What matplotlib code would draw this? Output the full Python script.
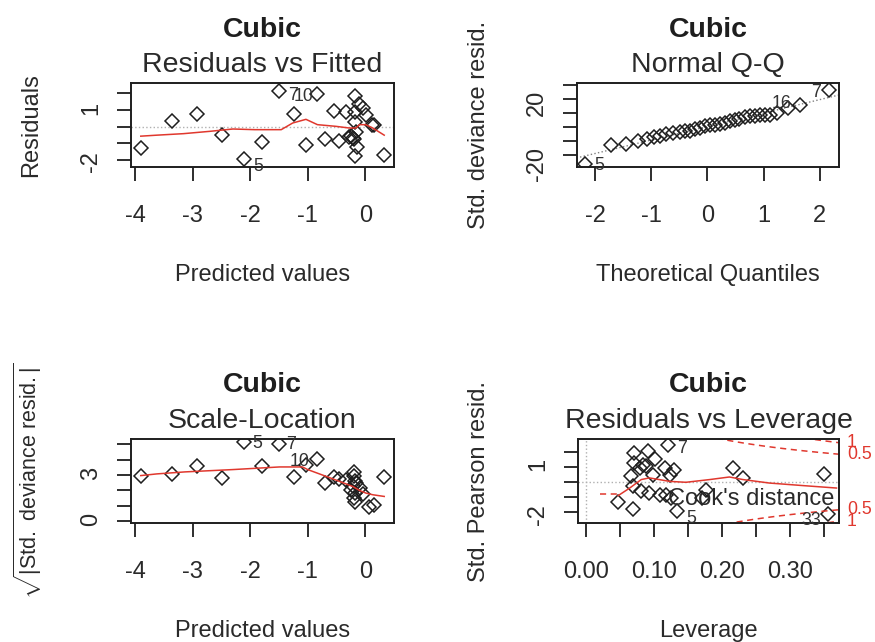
import matplotlib
matplotlib.use("Agg")
import numpy as np
import matplotlib.pyplot as plt
from matplotlib.transforms import blended_transform_factory

plt.rcParams['font.family'] = ['Liberation Sans', 'DejaVu Sans']
plt.rcParams['mathtext.fontset'] = 'custom'
plt.rcParams['mathtext.rm'] = 'Liberation Sans'
plt.rcParams['mathtext.it'] = 'Liberation Sans:italic'

# ---- data ----
# Residuals vs Fitted
fitted = [-3.90, -3.36, -2.92, -2.49, -2.11, -1.79, -1.50, -1.23, -1.03, -0.84,
          -0.70, -0.54, -0.45, -0.34, -0.29, -0.25, -0.22, -0.20, -0.18, -0.17,
          -0.17, -0.18, -0.15, -0.16, -0.10, -0.03, 0.01, 0.12, 0.16, 0.33]
resid = [-1.29, 0.36, 0.73, -0.53, -1.92, -0.95, 2.14, 0.73, -1.09, 1.94,
         -0.74, 0.95, -0.84, 0.89, -0.62, -0.55, -0.66, -0.72, 1.84, 0.89,
         0.25, -1.75, -1.25, -0.30, 1.33, 1.09, 0.69, 0.12, 0.08, -1.73]
rf_smooth_x = [-3.90, -3.62, -3.16, -2.70, -2.30, -1.92, -1.46, -1.26, -1.03,
               -0.83, -0.51, -0.28, -0.16, -0.10, 0.01, 0.13, 0.33]
rf_smooth_y = [-0.57, -0.51, -0.42, -0.28, -0.14, -0.18, -0.18, 0.22, 0.44,
               0.12, 0.02, -0.08, -0.08, 0.12, 0.12, -0.08, -0.51]
rf_ids = ["5", "7", "10"]
rf_id_x = [-1.86, -1.26, -1.08]
rf_id_y = [-2.37, 1.86, 1.82]

# Normal Q-Q
qq_x = [-2.18, -1.71, -1.45, -1.23, -1.07, -0.95, -0.85, -0.73, -0.61, -0.49,
        -0.40, -0.31, -0.23, -0.14, -0.05, 0.04, 0.13, 0.22, 0.31, 0.40,
        0.49, 0.57, 0.66, 0.75, 0.84, 0.93, 1.02, 1.11, 1.23, 1.43, 1.65, 2.16]
qq_y = [-26.2, -12.5, -12.0, -9.7, -8.3, -7.3, -6.6, -5.0, -4.2, -3.3,
        -3.0, -2.6, -1.2, -0.7, 0.5, 1.2, 1.7, 1.9, 2.8, 4.0,
        5.2, 5.9, 7.0, 7.5, 7.8, 8.3, 8.5, 8.7, 9.9, 13.4, 15.8, 26.4]
qq_line_x = [-2.33, 2.33]
qq_line_y = [-22.0, 22.5]
qq_ids = ["5", "16", "7"]
qq_id_x = [-1.93, 1.32, 1.94]
qq_id_y = [-27.0, 16.3, 24.2]

# Scale-Location
sl_x = [-3.90, -3.36, -2.92, -2.49, -2.11, -1.79, -1.50, -1.23, -1.03, -0.83,
        -0.70, -0.54, -0.45, -0.34, -0.20, -0.19, -0.17, -0.22, -0.16, -0.25,
        -0.18, -0.20, -0.18, -0.09, -0.03, 0.07, 0.16, 0.33]
sl_y = [2.96, 3.09, 3.57, 2.80, 5.13, 3.57, 5.02, 2.85, 3.67, 4.04,
        2.48, 2.85, 2.75, 2.70, 3.17, 2.91, 2.59, 2.26, 2.48, 2.04,
        1.83, 1.50, 1.28, 2.15, 1.78, 0.91, 1.07, 2.85]
sl_smooth_x = [-3.90, -3.62, -3.13, -2.30, -1.49, -1.09, -1.00, -0.68, -0.45,
               -0.22, -0.10, 0.01, 0.13, 0.33]
sl_smooth_y = [2.96, 3.07, 3.20, 3.35, 3.52, 3.52, 3.35, 2.91, 2.59,
               2.26, 2.00, 1.83, 1.72, 1.61]
sl_ids = ["5", "7", "10"]
sl_id_x = [-1.88, -1.29, -1.14]
sl_id_y = [5.04, 4.98, 3.89]

# Residuals vs Leverage
lev = [0.047, 0.069, 0.071, 0.071, 0.066, 0.069, 0.079, 0.084, 0.088, 0.091,
       0.101, 0.098, 0.093, 0.081, 0.108, 0.116, 0.120, 0.123, 0.130, 0.118,
       0.125, 0.133, 0.170, 0.177, 0.216, 0.231, 0.350, 0.356]
std_pearson = [-1.29, -1.80, 1.93, 1.27, 0.38, -0.29, 0.90, 1.10, 1.04, 2.04,
               1.49, 0.49, -0.73, -0.62, -0.84, 0.93, 2.42, 0.49, 0.82, -0.84,
               -1.05, -1.91, -1.05, -0.56, 0.93, 0.27, 0.56, -2.13]
lv_smooth_x = [0.047, 0.064, 0.081, 0.093, 0.123, 0.147, 0.182, 0.211, 0.231,
               0.270, 0.320, 0.369]
lv_smooth_y = [-0.90, -0.40, 0.16, 0.27, 0.04, -0.02, 0.16, 0.33, 0.16,
               -0.07, -0.24, -0.40]
lv_ids = ["7", "5", "33"]
lv_id_x = [0.141, 0.155, 0.332]
lv_id_y = [2.20, -2.40, -2.55]
n_par = 4
cook_levels = [0.5, 1.0]

# ---- figure ----
W, H = 875, 642
fig = plt.figure(figsize=(W / 100, H / 100), dpi=100)

DARK = '#1e1e1e'
RED = '#e0382e'
MAIN = 20.5
LAB = 17
ID = 12.75


def panel(l, t, r, b):
    ax = fig.add_axes([l / W, 1 - b / H, (r - l) / W, (b - t) / H])
    for s in ax.spines.values():
        s.set_linewidth(1.4)
        s.set_color(DARK)
    ax.tick_params(length=10, width=1.3, color=DARK, labelsize=LAB,
                   labelcolor='#2a2a2a')
    ax.tick_params(axis='x', pad=17)
    ax.tick_params(axis='y', pad=11, labelrotation=90)
    return ax


def titles(l, r, y1, y2, sub):
    cx = (l + r) / 2 / W
    fig.text(cx, 1 - y1 / H, "Cubic", ha='center', va='baseline',
             fontsize=MAIN, fontweight='bold', color=DARK)
    fig.text(cx, 1 - y2 / H, sub, ha='center', va='baseline',
             fontsize=MAIN, color='#2a2a2a')


def xlab(l, r, y, s):
    fig.text((l + r) / 2 / W, 1 - y / H, s, ha='center', va='baseline',
             fontsize=LAB, color='#2a2a2a')


def ylab(x, t, b, s, size=LAB):
    fig.text(x / W, 1 - (t + b) / 2 / H, s, ha='center', va='baseline',
             rotation=90, rotation_mode='anchor', fontsize=size, color='#2a2a2a')


def points(ax, x, y):
    ax.plot(x, y, linestyle='none', marker='D', markersize=6.8,
            markerfacecolor='none', markeredgecolor=DARK, markeredgewidth=1.1)


def ids(ax, labs, x, y):
    for s, a, b in zip(labs, x, y):
        ax.text(a, b, s, fontsize=ID, color='#333333', ha='center', va='center',
                clip_on=False)


# panel 1: Residuals vs Fitted
ax1 = panel(131, 83, 394, 167)
ax1.axhline(0, color='#b0b0b0', lw=1.0, ls=':')
points(ax1, fitted, resid)
ax1.plot(rf_smooth_x, rf_smooth_y, color=RED, lw=1.1)
ids(ax1, rf_ids, rf_id_x, rf_id_y)
ax1.set_xlim(-4.07, 0.50)
ax1.set_ylim(-2.42, 2.62)
ax1.set_xticks([-4, -3, -2, -1, 0], labels=["-4", "-3", "-2", "-1", "0"])
ax1.set_yticks([-2, -1, 0, 1, 2], labels=["-2", "", "", "1", ""])
titles(131, 394, 37, 72, "Residuals vs Fitted")
xlab(131, 394, 281, "Predicted values")
ylab(37, 83, 167, "Residuals")

# panel 2: Normal Q-Q
ax2 = panel(577, 83, 839, 167)
ax2.plot(qq_line_x, qq_line_y, color='#808080', lw=1.0, ls=':')
points(ax2, qq_x, qq_y)
ids(ax2, qq_ids, qq_id_x, qq_id_y)
ax2.set_xlim(-2.32, 2.34)
ax2.set_ylim(-28.4, 31.1)
ax2.set_xticks([-2, -1, 0, 1, 2], labels=["-2", "-1", "0", "1", "2"])
ax2.set_yticks([-20, -10, 0, 10, 20, 30], labels=["-20", "", "", "", "20", ""])
titles(577, 839, 37, 72, "Normal Q-Q")
xlab(577, 839, 281, "Theoretical Quantiles")
ylab(485, 83, 167, "Std. deviance resid.")

# panel 3: Scale-Location
ax3 = panel(131, 439, 394, 523)
points(ax3, sl_x, sl_y)
ax3.plot(sl_smooth_x, sl_smooth_y, color=RED, lw=1.1)
ids(ax3, sl_ids, sl_id_x, sl_id_y)
ax3.set_xlim(-4.07, 0.50)
ax3.set_ylim(-0.11, 5.33)
ax3.set_xticks([-4, -3, -2, -1, 0], labels=["-4", "-3", "-2", "-1", "0"])
ax3.set_yticks([0, 1, 2, 3, 4, 5], labels=["0", "", "", "3", "", ""])
titles(131, 394, 392, 428, "Scale-Location")
xlab(131, 394, 637, "Predicted values")
ylab(37, 439, 523, r"$\sqrt{|\mathrm{Std.\ deviance\ resid.}|}$", size=15.5)

# panel 4: Residuals vs Leverage
ax4 = panel(578, 439, 839, 523)
ax4.axhline(0, color='#b0b0b0', lw=1.0, ls=':')
ax4.axvline(0, color='#b0b0b0', lw=1.0, ls=':')
points(ax4, lev, std_pearson)
ax4.plot(lv_smooth_x, lv_smooth_y, color=RED, lw=1.1)
xmin4, xmax4 = -0.0123, 0.3727
hh = np.linspace(0.01, xmax4, 101)
for lvl in cook_levels:
    cl = np.sqrt(lvl * n_par * (1 - hh) / hh)
    ax4.plot(hh, cl, color=RED, lw=1.1, ls=(0, (4, 3)))
    ax4.plot(hh, -cl, color=RED, lw=1.1, ls=(0, (4, 3)))
trans = blended_transform_factory(ax4.transAxes, ax4.transData)
for lvl in cook_levels:
    yv = np.sqrt(lvl * n_par * (1 - xmax4) / xmax4)
    for sgn in (1, -1):
        ax4.text(1.03, sgn * yv, f"{lvl:g}", transform=trans, ha='left',
                 va='center', fontsize=ID, color=RED, clip_on=False)
ids(ax4, lv_ids, lv_id_x, lv_id_y)
ax4.set_xlim(xmin4, xmax4)
ax4.set_ylim(-2.71, 2.84)
ax4.set_xticks([0, 0.05, 0.10, 0.15, 0.20, 0.25, 0.30, 0.35],
               labels=["0.00", "", "0.10", "", "0.20", "", "0.30", ""])
ax4.set_yticks([-2, -1, 0, 1, 2], labels=["-2", "", "", "1", ""])
# Cook's distance legend
ax4.plot([0.020, 0.046], [-0.78, -0.78], color=RED, lw=1.1, ls=(0, (4, 3)),
         clip_on=False)
ax4.text(0.120, -1.50, "Cook's distance", fontsize=LAB, color='#2a2a2a',
         ha='left', va='baseline')
titles(578, 839, 392, 428, "Residuals vs Leverage")
xlab(578, 839, 637, "Leverage")
ylab(485, 439, 523, "Std. Pearson resid.")

fig.savefig("out.png", dpi=100, facecolor='white')
